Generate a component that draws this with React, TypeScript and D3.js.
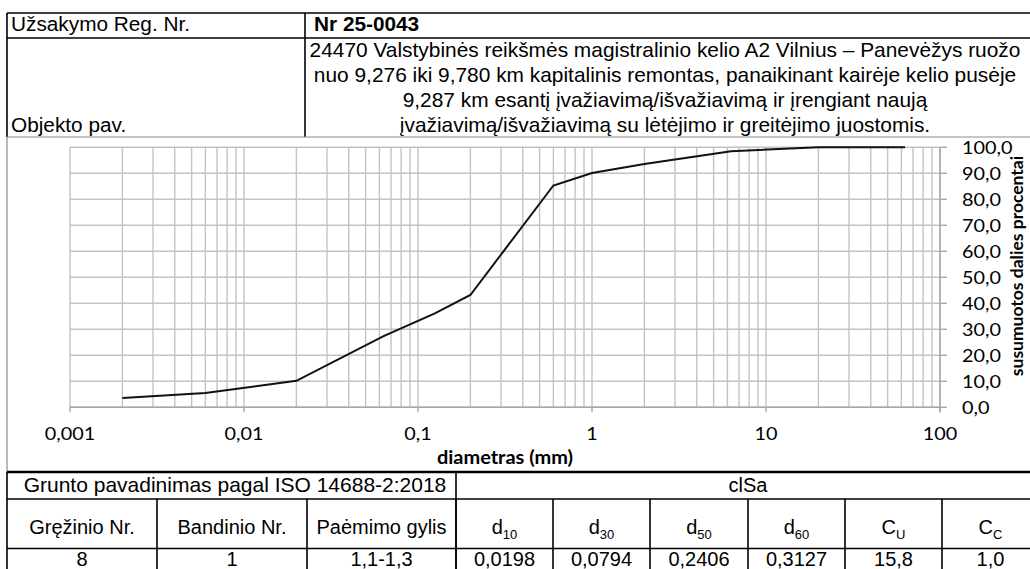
import React, { useEffect, useRef } from 'react';
import * as d3 from 'd3';

// sieve / hydrometer points
const diameters = [0.002, 0.006, 0.02, 0.063, 0.125, 0.2, 0.6, 1, 2, 6.3, 20, 63];
const passing = [3.6, 5.5, 10.2, 27.3, 36.1, 43.2, 85.3, 90.1, 93.6, 98.5, 100, 100];

const xTicks = [0.001, 0.01, 0.1, 1, 10, 100];
const yTicks = [0, 10, 20, 30, 40, 50, 60, 70, 80, 90, 100];

const orderLabel = 'Užsakymo Reg. Nr.';
const orderNo = 'Nr 25-0043';
const objectLabel = 'Objekto pav.';
const objectLines = [
  '24470 Valstybinės reikšmės magistralinio kelio A2 Vilnius – Panevėžys ruožo',
  'nuo 9,276 iki 9,780 km kapitalinis remontas, panaikinant kairėje kelio pusėje',
  '9,287 km esantį įvažiavimą/išvažiavimą ir įrengiant naują',
  'įvažiavimą/išvažiavimą su lėtėjimo ir greitėjimo juostomis.',
];

const soilLabel = 'Grunto pavadinimas pagal ISO 14688-2:2018';
const soilName = 'clSa';
const colHeads = [['Gręžinio Nr.', ''], ['Bandinio Nr.', ''], ['Paėmimo gylis', ''],
  ['d', '10'], ['d', '30'], ['d', '50'], ['d', '60'], ['C', 'U'], ['C', 'C']];
const colValues = ['8', '1', '1,1-1,3', '0,0198', '0,0794', '0,2406', '0,3127', '15,8', '1,0'];

const xTitle = 'diametras (mm)';
const yTitle = 'susumuotos dalies procentai';

const W = 1030;
const H = 569;
const ARIAL = '"Liberation Sans", Arial, sans-serif';
const CAL = 'Lato, "Open Sans", sans-serif';

export default function App() {
  const svgRef = useRef<SVGSVGElement>(null);

  useEffect(() => {
    if (!svgRef.current) return;
    const svg = d3.select(svgRef.current);
    svg.selectAll('*').remove();

    const loc = d3.formatLocale({ decimal: ',', thousands: ' ', grouping: [3], currency: ['', ''] });
    const fmtY = loc.format('.1f');
    const fmtX = loc.format('~f');

    const txt = (s: string, tx: number, ty: number, o: any = {}) =>
      svg.append('text')
        .attr('transform', `translate(${tx},${ty}) scale(${o.sx ?? 1},1)${o.rot ? ` rotate(${o.rot})` : ''}`)
        .attr('text-anchor', o.anchor ?? 'start')
        .attr('font-family', o.family ?? ARIAL)
        .attr('font-size', o.size ?? 20)
        .attr('font-weight', o.weight ?? 'normal')
        .attr('fill', '#000')
        .text(s);

    svg.append('rect').attr('width', W).attr('height', H).attr('fill', '#fff');

    // ---- chart
    const x = d3.scaleLog().domain([0.001, 100]).range([70, 940]);
    const y = d3.scaleLinear().domain([0, 100]).range([407.3, 147.3]);

    const minor = d3.range(-3, 2).flatMap(e => d3.range(1, 10).map(k => k * Math.pow(10, e))).concat([100]);
    const grid = svg.append('g').attr('stroke', '#c3c3c3').attr('stroke-width', 1.4);
    grid.selectAll('line.v').data(minor).enter().append('line')
      .attr('x1', d => x(d)).attr('x2', d => x(d))
      .attr('y1', y(100)).attr('y2', y(0));
    grid.selectAll('line.h').data(yTicks).enter().append('line')
      .attr('x1', x(0.001)).attr('x2', x(100))
      .attr('y1', d => y(d)).attr('y2', d => y(d));

    const axis = svg.append('g').attr('stroke', '#a6a6a6').attr('stroke-width', 1.4);
    axis.append('line').attr('x1', x(0.001)).attr('x2', x(100)).attr('y1', y(0)).attr('y2', y(0));
    axis.selectAll('line.xt').data(xTicks).enter().append('line')
      .attr('x1', d => x(d)).attr('x2', d => x(d)).attr('y1', y(0)).attr('y2', y(0) + 5);
    axis.append('line').attr('x1', x(100)).attr('x2', x(100)).attr('y1', y(100)).attr('y2', y(0) + 5);
    axis.selectAll('line.yt').data(yTicks).enter().append('line')
      .attr('x1', x(100)).attr('x2', x(100) + 7).attr('y1', d => y(d)).attr('y2', d => y(d));

    const pts = diameters.map((d, i) => [d, passing[i]] as [number, number]);
    svg.append('path')
      .attr('d', d3.line<[number, number]>().x(d => x(d[0])).y(d => y(d[1]))(pts) ?? '')
      .attr('fill', 'none').attr('stroke', '#111').attr('stroke-width', 2);

    xTicks.forEach(t => txt(fmtX(t), x(t), 440, { family: CAL, size: 18, anchor: 'middle', sx: 1.1 }));
    yTicks.forEach(t => txt(fmtY(t), 962, y(t) + 6.5, { family: CAL, size: 18, sx: 1.1 }));
    txt(xTitle, 505, 464, { family: CAL, size: 19, weight: 'bold', anchor: 'middle', sx: 1.05 });
    txt(yTitle, 1023, 266, { family: CAL, size: 17.5, weight: 'bold', anchor: 'middle', rot: -90 });

    // ---- header table
    const bl = svg.append('g').attr('stroke', '#000').attr('stroke-width', 1.6);
    bl.append('line').attr('x1', 7).attr('x2', W).attr('y1', 13).attr('y2', 13);
    bl.append('line').attr('x1', 7).attr('x2', W).attr('y1', 38).attr('y2', 38);
    bl.append('line').attr('x1', 7).attr('x2', 7).attr('y1', 13).attr('y2', 137);
    bl.append('line').attr('x1', 305).attr('x2', 305).attr('y1', 13).attr('y2', 137);
    svg.append('line').attr('x1', 7).attr('x2', W).attr('y1', 137).attr('y2', 137)
      .attr('stroke', '#8c8c8c').attr('stroke-width', 1);
    svg.append('line').attr('x1', 7).attr('x2', 7).attr('y1', 137).attr('y2', 472)
      .attr('stroke', '#8c8c8c').attr('stroke-width', 1.2);

    txt(orderLabel, 11, 31, { sx: 1.04 });
    txt(orderNo, 314, 31, { weight: 'bold', sx: 1.04 });
    objectLines.forEach((s, i) => txt(s, 665, 56.5 + i * 25, { anchor: 'middle', sx: 1.045 }));
    txt(objectLabel, 11, 131.5, { sx: 1.04 });

    // ---- bottom table
    const colX = [7, 157, 307, 456, 553, 650, 748, 845, 942, 1039];
    const tb = svg.append('g').attr('stroke', '#000').attr('stroke-width', 1.6);
    tb.append('line').attr('x1', 7).attr('x2', W).attr('y1', 472).attr('y2', 472).attr('stroke-width', 2.6);
    tb.append('line').attr('x1', 7).attr('x2', W).attr('y1', 499).attr('y2', 499);
    tb.append('line').attr('x1', 7).attr('x2', W).attr('y1', 548.5).attr('y2', 548.5);
    tb.append('line').attr('x1', 7).attr('x2', 7).attr('y1', 472).attr('y2', H);
    tb.append('line').attr('x1', 456).attr('x2', 456).attr('y1', 472).attr('y2', H);
    colX.slice(1, -1).forEach(cx => {
      tb.append('line').attr('x1', cx).attr('x2', cx).attr('y1', 499).attr('y2', H);
    });

    txt(soilLabel, 235, 492, { anchor: 'middle', size: 21 });
    txt(soilName, 748, 492, { anchor: 'middle' });
    colHeads.forEach(([main, sub], i) => {
      const cx = (colX[i] + colX[i + 1]) / 2;
      const t = txt(main, cx, 534, { anchor: 'middle' });
      if (sub) t.append('tspan').attr('font-size', 13).attr('dy', 5).text(sub);
    });
    colValues.forEach((v, i) => {
      const cx = (colX[i] + colX[i + 1]) / 2;
      txt(v, cx, 566, { anchor: 'middle' });
    });
  }, []);

  return (
    <svg
      ref={svgRef}
      width={W}
      height={H}
      style={{ position: 'absolute', left: 0, top: 0, display: 'block' }}
    />
  );
}
